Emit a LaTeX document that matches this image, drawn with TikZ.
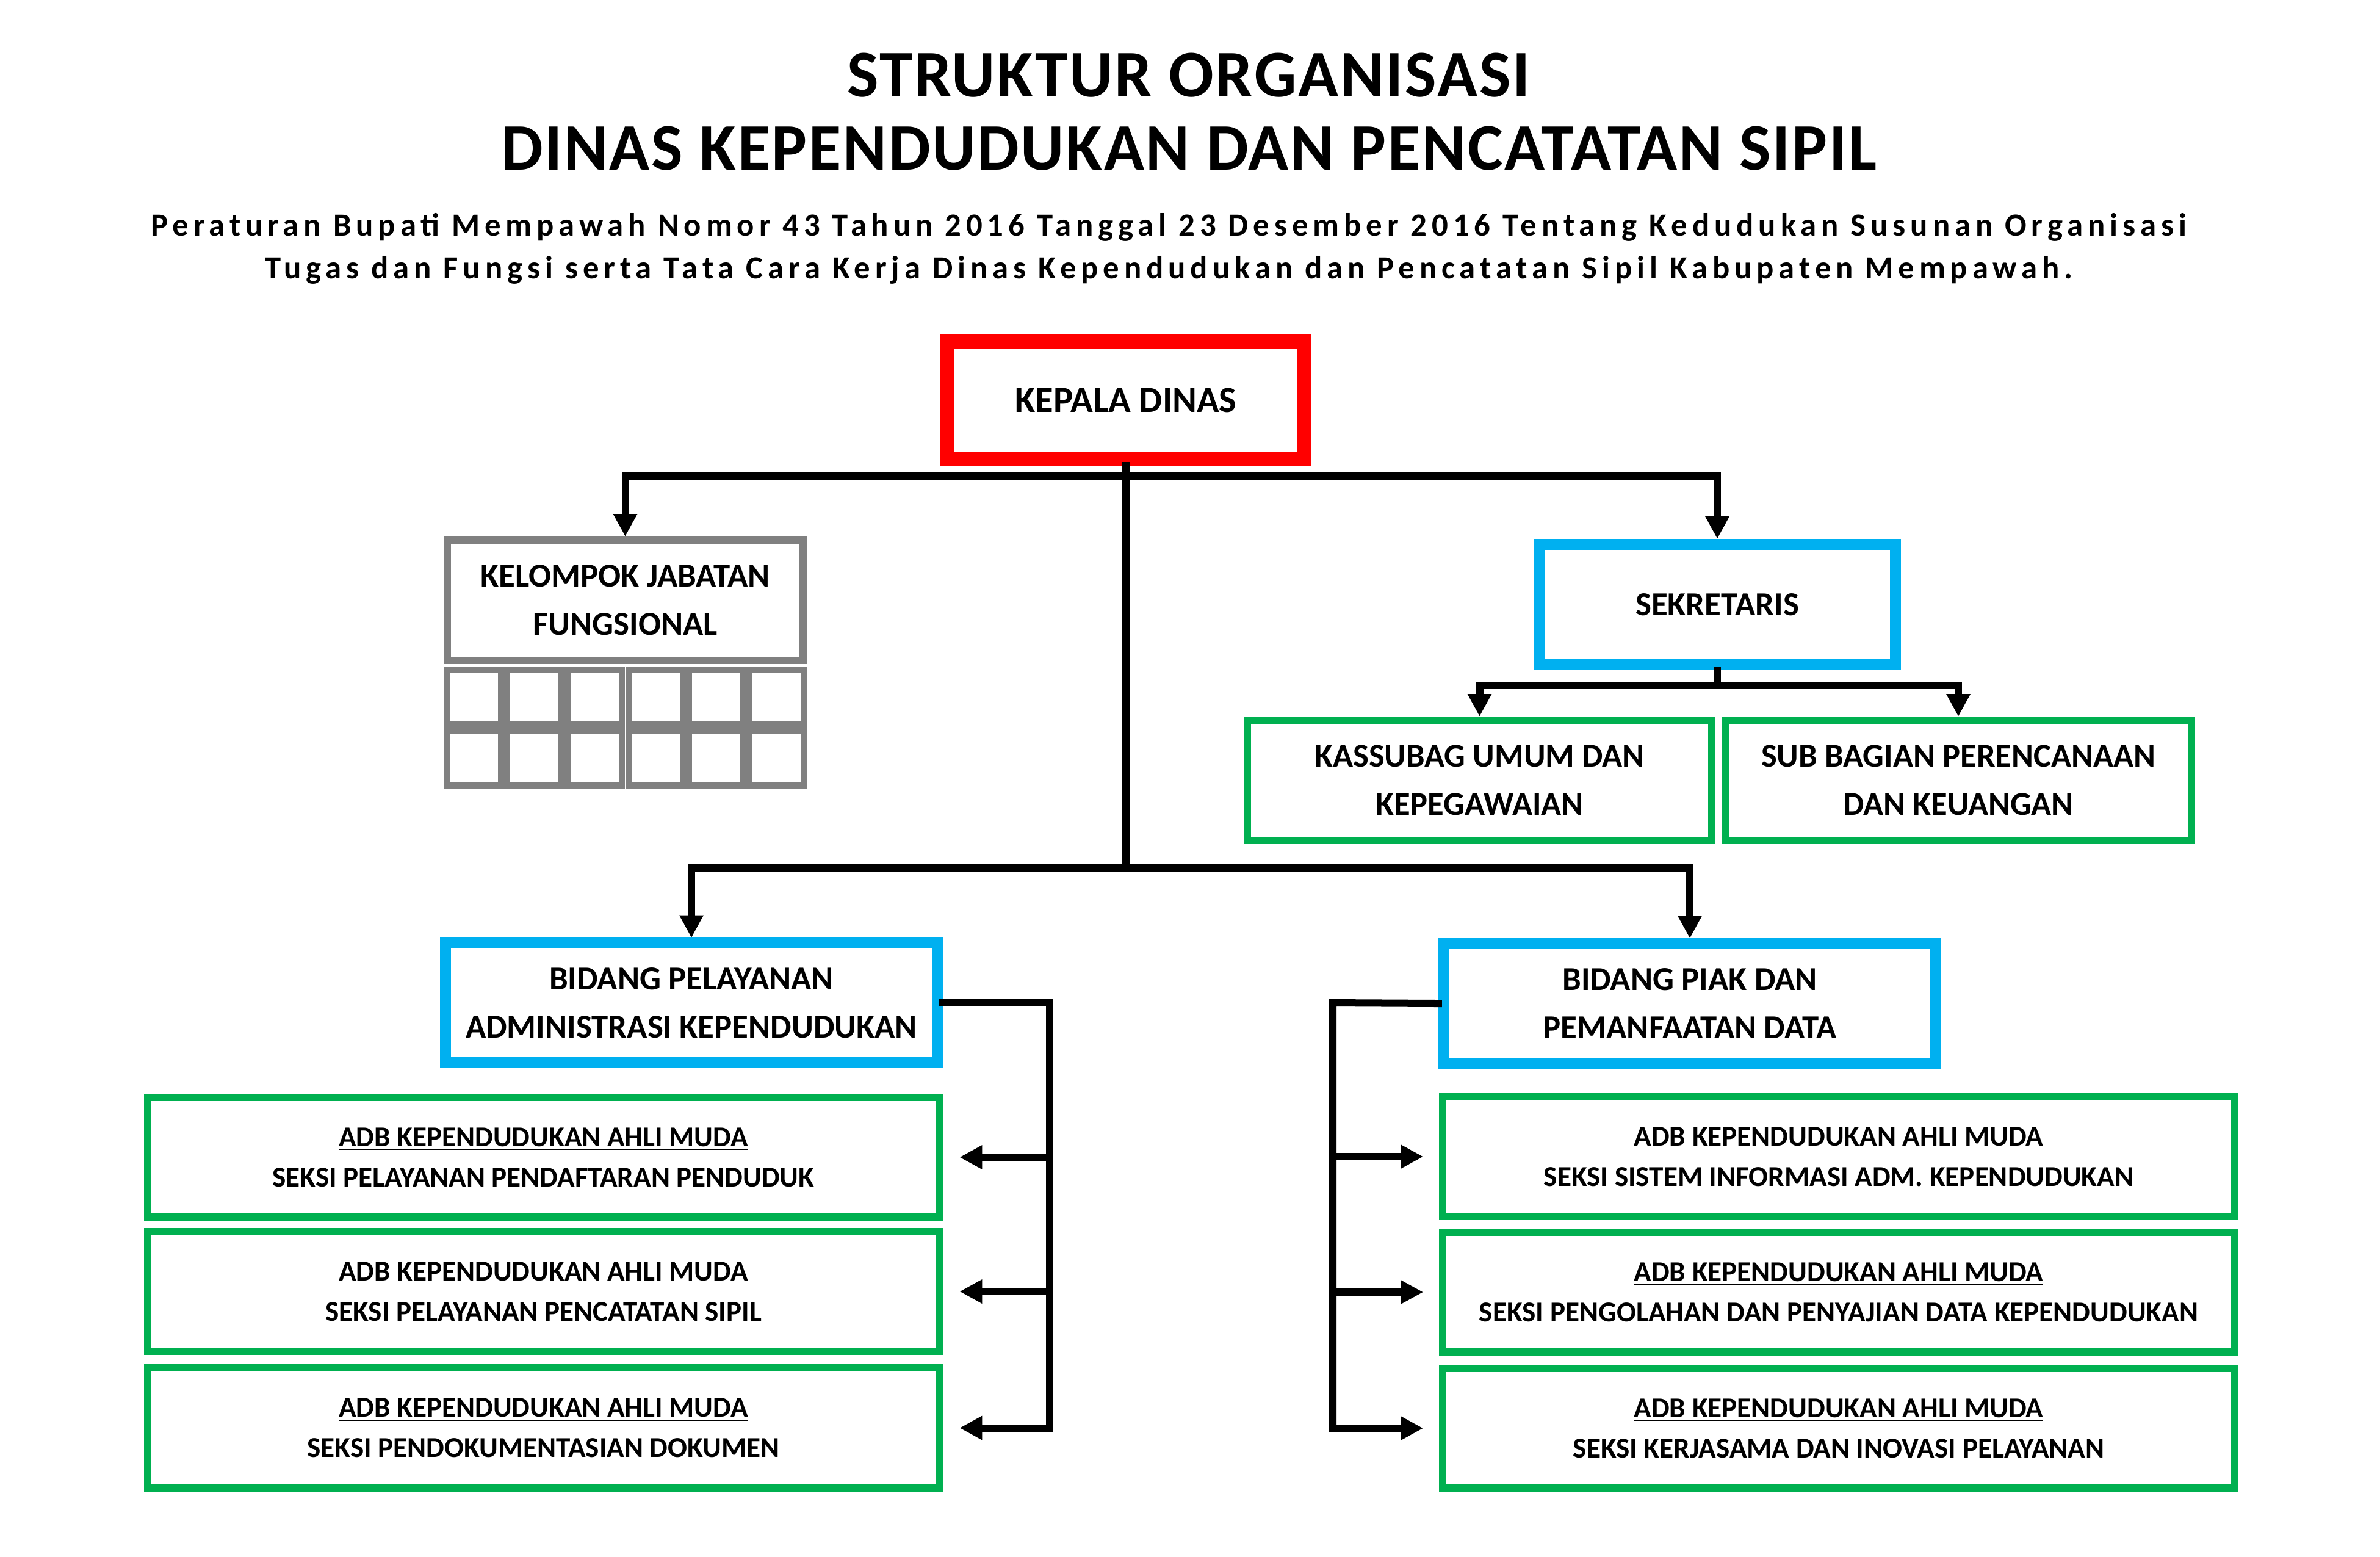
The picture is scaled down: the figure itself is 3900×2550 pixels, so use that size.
\documentclass[tikz,border=0pt]{standalone}
\usepackage{fontspec}
\setmainfont{Carlito}
\newfontfamily\titlefont[LetterSpace=2.5]{Carlito}
\newfontfamily\subfont[LetterSpace=15]{Carlito}
\usetikzlibrary{arrows.meta}
\definecolor{redb}{RGB}{255,0,0}
\definecolor{blueb}{RGB}{0,176,240}
\definecolor{greenb}{RGB}{0,176,80}
\definecolor{grayb}{RGB}{128,128,128}
\tikzset{
  box/.style={draw, fill=white, inner sep=0pt, align=center},
  redbox/.style={box, draw=redb, line width=0.23cm, font=\bfseries\fontsize{17.2}{20}\selectfont},
  graybox/.style={box, draw=grayb, line width=0.12cm, font=\bfseries\fontsize{15.6}{22.5}\selectfont},
  bluebox/.style={box, draw=blueb, line width=0.18cm, font=\bfseries\fontsize{15.6}{22.5}\selectfont},
  greenbox/.style={box, draw=greenb, line width=0.12cm, font=\bfseries\fontsize{15.5}{22.5}\selectfont},
  seksibox/.style={box, draw=greenb, line width=0.12cm, minimum width=12.97cm, minimum height=1.96cm, font=\bfseries\fontsize{13.4}{18.8}\selectfont},
  cellbox/.style={draw=grayb, line width=0.10cm, fill=white, inner sep=0pt, minimum width=0.89cm, minimum height=0.89cm},
  conn/.style={draw=black, line width=0.12cm, line join=miter, line cap=rect},
  arr/.style={-{Triangle[length=10.5pt,width=10.5pt]}},
}
\begin{document}
\begin{tikzpicture}[x=0.01cm, y=-0.01cm]
\path[use as bounding box, fill=white] (0,0) rectangle (3900,2550);

% titles
\node[anchor=base, inner sep=0pt, font=\titlefont\bfseries\fontsize{31}{36}\selectfont] (t1) at (1948,158) {STRUKTUR ORGANISASI};
\node[anchor=base, inner sep=0pt, font=\titlefont\bfseries\fontsize{31}{36}\selectfont] (t2) at (1948,278) {DINAS KEPENDUDUKAN DAN PENCATATAN SIPIL};
\node[anchor=base, inner sep=0pt, font=\subfont\bfseries\fontsize{15}{18}\selectfont] (s1) at (1915,386) {Peraturan Bupati Mempawah Nomor 43 Tahun 2016 Tanggal 23 Desember 2016 Tentang Kedudukan Susunan Organisasi};
\node[anchor=base, inner sep=0pt, font=\subfont\bfseries\fontsize{15}{18}\selectfont] (s2) at (1915,456) {Tugas dan Fungsi serta Tata Cara Kerja Dinas Kependudukan dan Pencatatan Sipil Kabupaten Mempawah.};

% boxes
\node[redbox, minimum width=5.84cm, minimum height=1.92cm] (kd) at (1845,655.5) {KEPALA DINAS};
\node[graybox, minimum width=5.83cm, minimum height=1.97cm] (kjf) at (1024.5,983.5) {KELOMPOK JABATAN\\FUNGSIONAL};
\foreach \i in {0,...,5} {
  \foreach \j in {0,1} {
    \node[cellbox] (c\i\j) at ({727+99.17*(\i+0.5)},{1093+99.5*(\j+0.5)}) {};
  }
}
\node[bluebox, minimum width=5.84cm, minimum height=1.97cm] (sek) at (2814,990.5) {SEKRETARIS};
\node[greenbox, minimum width=7.61cm, minimum height=1.97cm] (kas) at (2424.5,1278.5) {KASSUBAG UMUM DAN\\KEPEGAWAIAN};
\node[greenbox, minimum width=7.64cm, minimum height=1.97cm] (sbp) at (3209,1278.5) {SUB BAGIAN PERENCANAAN\\DAN KEUANGAN};
\node[bluebox, minimum width=8.06cm, minimum height=1.95cm] (bpel) at (1133,1643) {BIDANG PELAYANAN\\ADMINISTRASI KEPENDUDUKAN};
\node[bluebox, minimum width=8.06cm, minimum height=1.95cm] (bpiak) at (2769,1644) {BIDANG PIAK DAN\\PEMANFAATAN DATA};

\node[seksibox] (l1) at (890.5,1896) {\underline{ADB KEPENDUDUKAN AHLI MUDA}\\SEKSI PELAYANAN PENDAFTARAN PENDUDUK};
\node[seksibox] (l2) at (890.5,2116) {\underline{ADB KEPENDUDUKAN AHLI MUDA}\\SEKSI PELAYANAN PENCATATAN SIPIL};
\node[seksibox] (l3) at (890.5,2339.5) {\underline{ADB KEPENDUDUKAN AHLI MUDA}\\SEKSI PENDOKUMENTASIAN DOKUMEN};
\node[seksibox] (r1) at (3013,1895) {\underline{ADB KEPENDUDUKAN AHLI MUDA}\\SEKSI SISTEM INFORMASI ADM. KEPENDUDUKAN};
\node[seksibox] (r2) at (3013,2117) {\underline{ADB KEPENDUDUKAN AHLI MUDA}\\SEKSI PENGOLAHAN DAN PENYAJIAN DATA KEPENDUDUKAN};
\node[seksibox] (r3) at (3013,2340) {\underline{ADB KEPENDUDUKAN AHLI MUDA}\\SEKSI KERJASAMA DAN INOVASI PELAYANAN};

% connectors
\coordinate (j1) at (1845,780);
\coordinate (j2) at (1845,1422);
\coordinate (j3) at (2814,1123);
\coordinate (lv) at (1720,1643);
\coordinate (rv) at (2184,1643);

\draw[conn] (kd.south) -- (j2);
\draw[conn, arr] (j1) -| (kjf.north);
\draw[conn, arr] (j1) -| (sek.north);
\draw[conn] (sek.south) -- (j3);
\draw[conn, arr] (j3) -| (kas.north);
\draw[conn, arr] (j3) -| (sbp.north);
\draw[conn, arr] (j2) -| (bpel.north);
\draw[conn, arr] (j2) -| (bpiak.north);

\draw[conn] (bpel.east) -- (lv) -- (lv |- l3.east);
\foreach \n in {l1,l2,l3} {
  \draw[conn, arr, shorten >=0.27cm] (lv |- \n.east) -- (\n.east);
}
\draw[conn] (bpiak.west) -- (rv) -- (rv |- r3.west);
\foreach \n in {r1,r2,r3} {
  \draw[conn, arr, shorten >=0.26cm] (rv |- \n.west) -- (\n.west);
}
\end{tikzpicture}
\end{document}
